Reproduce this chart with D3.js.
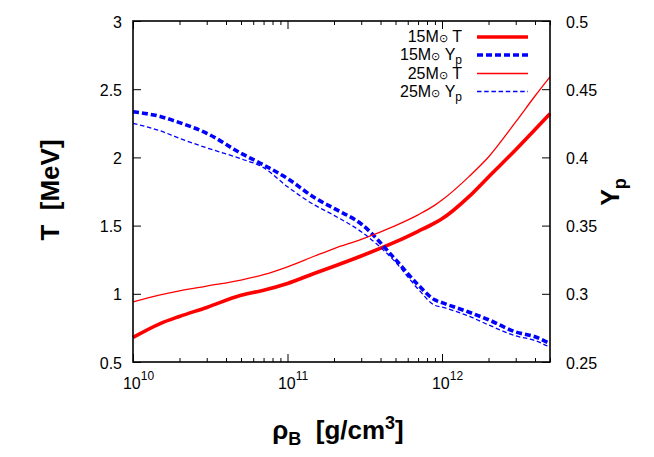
<!DOCTYPE html>
<html><head><meta charset="utf-8">
<script src="https://cdn.jsdelivr.net/npm/d3@7"></script>
<style>
body{margin:0;background:#fff;}
svg{display:block;font-family:"Liberation Sans",Arial,Helvetica,sans-serif;}
</style></head>
<body><svg id="c" width="654" height="457"></svg>
<script>
// Density grid (g/cm^3)
const rho = [1e10,1.5e10,2e10,3e10,5e10,7e10,1e11,1.5e11,2e11,3e11,5e11,7e11,9e11,1e12,1.5e12,2e12,3e12,4e12,5e12];
// Series values
const T15  = [0.68,0.782,0.834,0.900,0.989,1.026,1.076,1.151,1.202,1.277,1.380,1.458,1.52,1.550,1.714,1.857,2.056,2.205,2.32];
const T25  = [0.94,0.992,1.022,1.057,1.101,1.140,1.198,1.277,1.332,1.399,1.500,1.579,1.65,1.687,1.861,2.003,2.26,2.45,2.59];
const Yp15 = [0.4335,0.430,0.4255,0.4177,0.4030,0.3945,0.3845,0.3704,0.3626,0.3512,0.3251,0.3066,0.2955,0.2935,0.2865,0.2810,0.2720,0.2685,0.2635];
const Yp25 = [0.425,0.4195,0.4140,0.4070,0.3990,0.3925,0.3785,0.3650,0.3575,0.3455,0.3232,0.3035,0.2915,0.2902,0.2835,0.2772,0.2692,0.2657,0.2608];
// Tick values
const xMajor = [1e10,1e11,1e12];
const xExp = [10,11,12];
const tTicks = [0.5,1,1.5,2,2.5,3];
const tLabels = ["0.5","1","1.5","2","2.5","3"];
const yTicks = [0.25,0.3,0.35,0.4,0.45,0.5];
const yLabels = ["0.25","0.3","0.35","0.4","0.45","0.5"];
const legendNames = ["15M","15M","25M","25M"];

const L=133,R=550,Tp=21,B=362;
const svg=d3.select("#c");
const x=d3.scaleLog().domain([1e10,5e12]).range([L,R]);
const yT=d3.scaleLinear().domain([0.5,3]).range([B,Tp]);
const yY=d3.scaleLinear().domain([0.25,0.5]).range([B,Tp]);

// minor ticks
const minor=[];
for(let e=10;e<=12;e++){for(let m=2;m<=9;m++){const v=m*Math.pow(10,e); if(v<=5e12) minor.push(v);}}

const g=svg.append("g");
const gb=g.append("g").attr("transform",`translate(0,${B})`).call(d3.axisBottom(x).tickValues(xMajor).tickSizeInner(-8).tickSizeOuter(0).tickFormat(()=> ""));
g.append("g").attr("transform",`translate(0,${Tp})`).call(d3.axisTop(x).tickValues(xMajor).tickSizeInner(-8).tickSizeOuter(0).tickFormat(()=>""));
g.append("g").attr("transform",`translate(0,${B})`).call(d3.axisBottom(x).tickValues(minor).tickSizeInner(-4).tickSizeOuter(0).tickFormat(()=>""));
g.append("g").attr("transform",`translate(0,${Tp})`).call(d3.axisTop(x).tickValues(minor).tickSizeInner(-4).tickSizeOuter(0).tickFormat(()=>""));
const gl=g.append("g").attr("transform",`translate(${L},0)`).call(d3.axisLeft(yT).tickValues(tTicks).tickSizeInner(-8).tickSizeOuter(0).tickPadding(11).tickFormat((d,i)=>tLabels[i]));
const gr=g.append("g").attr("transform",`translate(${R},0)`).call(d3.axisRight(yY).tickValues(yTicks).tickSizeInner(-8).tickSizeOuter(0).tickPadding(16).tickFormat((d,i)=>yLabels[i]));
g.selectAll(".domain").remove();
g.selectAll(".tick line").attr("stroke","#000").attr("stroke-width",1);
g.selectAll(".tick text").attr("font-size",16).attr("fill","#000").attr("font-family","Liberation Sans, Arial, sans-serif");
gl.selectAll(".tick text").attr("dy","0.38em");
gr.selectAll(".tick text").attr("dy","0.38em");
gb.selectAll(".tick").each(function(d,i){
  const t=d3.select(this).select("text").attr("y",27).attr("dy",0).attr("text-anchor","middle").attr("dx",5);
  t.append("tspan").text("10");
  t.append("tspan").attr("font-size",12).attr("dy",-9).text(xExp[i]);
});

// curves
const line=(ys,sc)=>d3.line().x((d,i)=>x(rho[i])).y(d=>sc(d)).curve(d3.curveMonotoneX)(ys);
const plot=g.append("g");
plot.append("path").attr("d",line(T15,yT)).attr("fill","none").attr("stroke","#ff0000").attr("stroke-width",3.6);
plot.append("path").attr("d",line(Yp15,yY)).attr("fill","none").attr("stroke","#0000ff").attr("stroke-width",3.6).attr("stroke-dasharray","6,3");
plot.append("path").attr("d",line(T25,yT)).attr("fill","none").attr("stroke","#ff0000").attr("stroke-width",1.3);
plot.append("path").attr("d",line(Yp25,yY)).attr("fill","none").attr("stroke","#0000ff").attr("stroke-width",1.3).attr("stroke-dasharray","4.5,2.7");

g.append("rect").attr("x",L).attr("y",Tp).attr("width",R-L).attr("height",B-Tp).attr("fill","none").attr("stroke","#000").attr("stroke-width",1.6);

// legend
const legY=[37,55,73.5,91.5];
const styles=[{c:"#ff0000",w:3.6,d:null,k:"T"},{c:"#0000ff",w:3.6,d:"6,3",k:"Y"},{c:"#ff0000",w:1.3,d:null,k:"T"},{c:"#0000ff",w:1.3,d:"4.5,2.7",k:"Y"}];
const lg=svg.append("g");
styles.forEach((s,i)=>{
  const t=lg.append("text").attr("x",462).attr("y",legY[i]+5).attr("text-anchor","end").attr("font-size",16);
  t.append("tspan").text(legendNames[i]);
  t.append("tspan").attr("font-size",11).text("\u2299");
  if(s.k==="T"){ t.append("tspan").text("\u00a0T"); }
  else { t.append("tspan").text("\u00a0Y"); t.append("tspan").attr("font-size",12).attr("dy",4).text("p"); }
  lg.append("line").attr("x1",477).attr("x2",528).attr("y1",legY[i]).attr("y2",legY[i]).attr("stroke",s.c).attr("stroke-width",s.w).attr("stroke-dasharray",s.d);
});

// axis titles
svg.append("text").attr("transform","translate(59,190) rotate(-90)").attr("text-anchor","middle").attr("font-size",26).attr("font-weight","bold").text("T\u00a0\u00a0[MeV]");
const yt=svg.append("text").attr("transform","translate(619,192) rotate(-90)").attr("text-anchor","middle").attr("font-size",25).attr("font-weight","bold");
yt.append("tspan").text("Y");
yt.append("tspan").attr("font-size",18).attr("dy",7).text("p");
const xt=svg.append("text").attr("x",338).attr("y",439).attr("text-anchor","middle").attr("font-size",26).attr("font-weight","bold");
xt.append("tspan").text("\u03c1");
xt.append("tspan").attr("font-size",18).attr("dy",6).text("B");
xt.append("tspan").attr("dy",-6).text("\u00a0\u00a0[g/cm");
xt.append("tspan").attr("font-size",18).attr("dy",-10).text("3");
xt.append("tspan").attr("dy",10).text("]");
</script></body></html>
